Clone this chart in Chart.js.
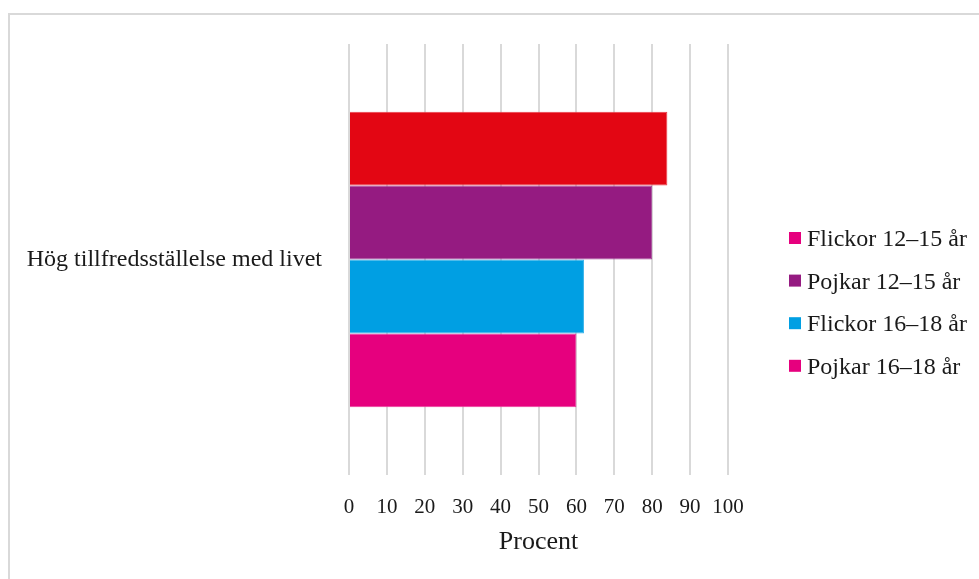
<!DOCTYPE html>
<html>
<head>
<meta charset="utf-8">
<script src="https://cdn.jsdelivr.net/npm/chart.js@4"></script>
<style>
  html, body { margin: 0; padding: 0; background: #fff; overflow: hidden; }
  #wrap { position: relative; width: 979px; height: 579px; }
  #frame { position: absolute; left: 8px; top: 13px; width: 1000px; height: 600px;
           border-left: 2px solid #d9d9d9; border-top: 2px solid #d9d9d9; }
  canvas { position: absolute; left: 0; top: 0; }
</style>
</head>
<body>
<div id="wrap">
  <div id="frame"></div>
  <canvas id="c" width="979" height="579"></canvas>
</div>
<script>
// Data
const categories = ['Hög tillfredsställelse med livet'];
const seriesNames = ['Flickor 12–15 år', 'Pojkar 12–15 år', 'Flickor 16–18 år', 'Pojkar 16–18 år'];
const flickor1215 = [84];
const pojkar1215 = [80];
const flickor1618 = [62];
const pojkar1618 = [60];
const xTicks = [0, 10, 20, 30, 40, 50, 60, 70, 80, 90, 100];
const axisTitle = 'Procent';

// Styles
const barColors = ['#e30613', '#951b81', '#009fe3', '#e6007e'];
const barEdges = ['#ea3d48', '#a54a98', '#3db5ea', '#ec3d9b'];
const swatchColors = ['#e6007e', '#951b81', '#009fe3', '#e6007e'];
const textColor = '#1a1a1a';
const serif = '"Liberation Serif", "Times New Roman", serif';

const seriesValues = [flickor1215, pojkar1215, flickor1618, pojkar1618];

// Legend drawn to the right of the plot
const sideLegend = {
  id: 'sideLegend',
  afterDraw(chart) {
    const ctx = chart.ctx;
    const x0 = chart.chartArea.right + 61;
    const firstRow = 238;
    const step = 42.6;
    ctx.save();
    ctx.font = '24px ' + serif;
    ctx.textBaseline = 'middle';
    ctx.textAlign = 'left';
    chart.data.datasets.forEach((ds, i) => {
      const cy = firstRow + i * step;
      ctx.fillStyle = swatchColors[i];
      ctx.fillRect(x0, cy - 6, 12, 12);
      ctx.fillStyle = textColor;
      ctx.fillText(ds.label, x0 + 18, cy + 2);
    });
    ctx.restore();
  }
};

new Chart(document.getElementById('c'), {
  type: 'bar',
  data: {
    labels: categories,
    datasets: seriesNames.map((name, i) => ({
      label: name,
      data: seriesValues[i],
      backgroundColor: barColors[i],
      borderColor: barEdges[i],
      borderWidth: 1,
      categoryPercentage: 0.686,
      barPercentage: 1.0
    }))
  },
  options: {
    indexAxis: 'y',
    responsive: false,
    animation: false,
    devicePixelRatio: 1,
    layout: { padding: { top: 44, right: 251, bottom: 0, left: 0 } },
    plugins: {
      legend: { display: false },
      tooltip: { enabled: false }
    },
    scales: {
      x: {
        min: 0,
        max: 100,
        afterBuildTicks: (s) => { s.ticks = xTicks.map(v => ({ value: v })); },
        afterFit: (s) => { s.height = 104; },
        grid: { color: '#d9d9d9', lineWidth: 2, drawTicks: false },
        border: { display: false },
        ticks: { color: textColor, padding: 20, font: { family: serif, size: 21 }, maxRotation: 0 },
        title: {
          display: true,
          text: axisTitle,
          color: textColor,
          font: { family: serif, size: 26 },
          padding: { top: 10, bottom: 21 }
        }
      },
      y: {
        grid: { display: false, drawTicks: false },
        border: { display: false },
        ticks: { color: textColor, padding: 27, font: { family: serif, size: 24 } },
        afterFit: (s) => { s.width = 349; }
      }
    }
  },
  plugins: [sideLegend]
});
</script>
</body>
</html>
